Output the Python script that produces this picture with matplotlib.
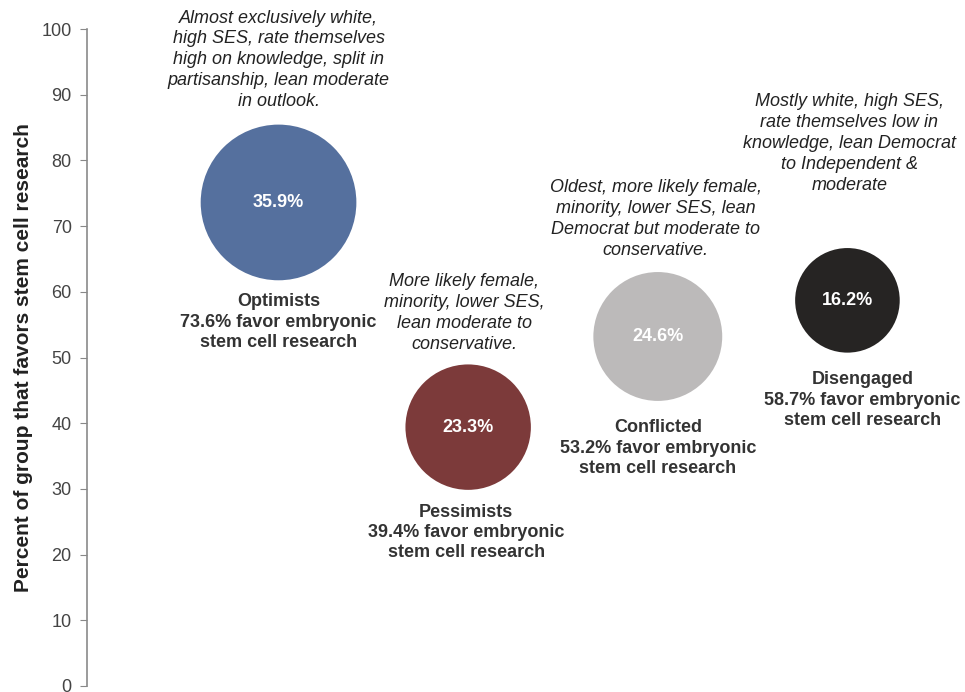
import numpy as np
import matplotlib
matplotlib.use('Agg')
import matplotlib.pyplot as plt

plt.rcParams['font.family'] = ['Liberation Sans', 'DejaVu Sans']

#--------------------------------------------------------------------------------------------------------#
# Data
#--------------------------------------------------------------------------------------------------------#
groups = ['Optimists', 'Pessimists', 'Conflicted', 'Disengaged']
favor = [73.6, 39.4, 53.2, 58.7]          # percent of group favoring embryonic stem cell research
share = [35.9, 23.3, 24.6, 16.2]          # share of public in each group (bubble size)
colors = ['#55709e', '#7c3a3a', '#bcbaba', '#262423']
notes = ['Almost exclusively white,\nhigh SES, rate themselves\nhigh on knowledge, split in\npartisanship, lean moderate\nin outlook.',
         'More likely female,\nminority, lower SES,\nlean moderate to\nconservative.',
         'Oldest, more likely female,\nminority, lower SES, lean\nDemocrat but moderate to\nconservative.',
         'Mostly white, high SES,\nrate themselves low in\nknowledge, lean Democrat\nto Independent &\nmoderate']
note_y = [95.3, 56.8, 71.1, 82.6]
label_y = [55.4, 23.4, 36.2, 43.5]
note_dx = [0.0, -0.02, -0.01, 0.01]
label_dx = [0.0, -0.01, 0.0, 0.08]
yticks = [0, 10, 20, 30, 40, 50, 60, 70, 80, 90, 100]

#--------------------------------------------------------------------------------------------------------#
# Plotting
#--------------------------------------------------------------------------------------------------------#
fig = plt.figure(figsize=(9.65, 6.92), dpi=100)
ax = fig.add_axes([87/965, 6/692, 878/965, 657/692])
x = np.arange(1, len(groups)+1)
ax.scatter(x, favor, s=np.array(share)*350, c=colors, edgecolors='none', zorder=3)

for i in range(len(groups)):
    ax.text(x[i], favor[i], '%.1f%%' % share[i], color='white', fontsize=13, fontweight='bold',
            ha='center', va='center', zorder=4)
    ax.text(x[i]+note_dx[i], note_y[i], notes[i], fontsize=13, style='italic', color='#222222',
            ha='center', va='center', linespacing=1.3)
    ax.text(x[i]+label_dx[i], label_y[i], '%s\n%.1f%% favor embryonic\nstem cell research' % (groups[i], favor[i]),
            fontsize=13, fontweight='bold', color='#333333', ha='center', va='center', linespacing=1.25)

ax.set_xlim(-0.01, 4.62)
ax.set_ylim(0, 100)
ax.set_yticks(yticks)
ax.set_xticks([])
ax.tick_params(axis='y', length=5, color='#888888', labelcolor='#444444', labelsize=13, pad=6)
for s in ['top', 'right', 'bottom']:
    ax.spines[s].set_visible(False)
ax.spines['left'].set_color('#8a8a8a')
ax.spines['left'].set_linewidth(1.2)
ax.set_ylabel('Percent of group that favors stem cell research', fontsize=15, fontweight='bold', color='#222222')
ax.yaxis.set_label_coords(-0.062, 0.5)
for t in ax.texts:
    t.set_clip_on(False)

fig.savefig('out.png', dpi=100)
